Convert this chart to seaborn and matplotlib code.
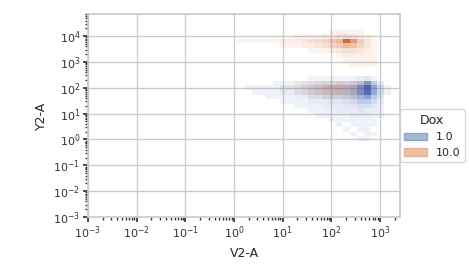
import numpy as np
import pandas as pd
import matplotlib
matplotlib.use("Agg")
import matplotlib.pyplot as plt
from matplotlib.colors import ListedColormap, to_rgb
import seaborn as sns

# log10 bin centres along V2-A
x_log = [0.16, 0.30, 0.45, 0.59, 0.73, 0.88, 1.02, 1.16, 1.30, 1.45, 1.59,
         1.73, 1.88, 2.02, 2.16, 2.30, 2.45, 2.59, 2.73, 2.88, 3.02, 3.16]

# Dox 1.0 : log10(Y2-A) row centre -> counts along x_log
dox1_rows_y = [2.37, 2.19, 2.01, 1.83, 1.65, 1.47, 1.29, 1.11, 0.93, 0.75, 0.57, 0.39, 0.21, 0.03]
dox1_counts = [
    [0, 0, 0, 0, 0, 0, 0, 0, 0, 0, 1, 1, 1, 1, 1, 1, 1, 2, 3, 1, 0, 0],
    [0, 0, 0, 0, 0, 1, 1, 1, 1, 2, 2, 3, 3, 3, 4, 4, 6, 10, 18, 8, 2, 0],
    [0, 1, 1, 1, 1, 1, 2, 2, 3, 4, 5, 6, 7, 8, 8, 9, 12, 20, 30, 15, 5, 1],
    [0, 0, 1, 1, 1, 1, 2, 2, 3, 4, 5, 6, 7, 7, 8, 9, 13, 20, 28, 15, 5, 1],
    [0, 0, 0, 0, 1, 1, 1, 1, 2, 2, 3, 3, 4, 5, 5, 6, 9, 12, 16, 9, 3, 0],
    [0, 0, 0, 0, 0, 0, 1, 1, 1, 1, 2, 2, 2, 3, 3, 4, 5, 8, 8, 5, 2, 0],
    [0, 0, 0, 0, 0, 0, 0, 0, 1, 1, 1, 1, 2, 2, 2, 3, 3, 4, 4, 3, 1, 0],
    [0, 0, 0, 0, 0, 0, 0, 0, 0, 0, 1, 1, 1, 1, 2, 2, 2, 3, 2, 2, 1, 0],
    [0, 0, 0, 0, 0, 0, 0, 0, 0, 0, 0, 1, 1, 1, 1, 1, 2, 2, 2, 1, 1, 0],
    [0, 0, 0, 0, 0, 0, 0, 0, 0, 0, 0, 0, 0, 1, 1, 1, 1, 1, 1, 1, 0, 0],
    [0, 0, 0, 0, 0, 0, 0, 0, 0, 0, 0, 0, 0, 0, 1, 0, 1, 1, 1, 1, 0, 0],
    [0, 0, 0, 0, 0, 0, 0, 0, 0, 0, 0, 0, 0, 0, 0, 1, 0, 1, 1, 0, 0, 0],
    [0, 0, 0, 0, 0, 0, 0, 0, 0, 0, 0, 0, 0, 0, 0, 0, 1, 0, 1, 1, 0, 0],
    [0, 0, 0, 0, 0, 0, 0, 0, 0, 0, 0, 0, 0, 0, 0, 0, 0, 1, 1, 0, 0, 0],
]

# Dox 10.0
dox10_rows_y = [4.17, 3.99, 3.81, 3.63, 3.45, 3.27, 3.09, 2.91, 2.19, 2.01, 1.83, 1.65]
dox10_counts = [
    [0, 0, 0, 0, 0, 0, 0, 0, 0, 0, 0, 0, 0, 1, 1, 1, 1, 1, 0, 0, 0, 0],
    [0, 0, 0, 0, 0, 0, 0, 0, 1, 1, 1, 1, 2, 2, 3, 4, 3, 2, 1, 0, 0, 0],
    [1, 1, 1, 1, 1, 1, 2, 2, 2, 3, 4, 5, 6, 9, 12, 30, 18, 8, 3, 1, 0, 0],
    [0, 0, 0, 0, 0, 0, 1, 1, 1, 2, 2, 3, 4, 6, 8, 12, 10, 6, 3, 1, 0, 0],
    [0, 0, 0, 0, 0, 0, 0, 0, 0, 0, 1, 1, 1, 2, 3, 4, 4, 3, 2, 1, 0, 0],
    [0, 0, 0, 0, 0, 0, 0, 0, 0, 0, 0, 0, 0, 0, 1, 2, 2, 2, 1, 1, 0, 0],
    [0, 0, 0, 0, 0, 0, 0, 0, 0, 0, 0, 0, 0, 0, 0, 1, 1, 1, 1, 1, 0, 0],
    [0, 0, 0, 0, 0, 0, 0, 0, 0, 0, 0, 0, 0, 0, 0, 0, 1, 1, 1, 1, 0, 0],
    [0, 0, 0, 0, 0, 0, 0, 0, 1, 1, 2, 2, 3, 3, 4, 3, 2, 1, 1, 0, 0, 0],
    [0, 0, 0, 0, 0, 0, 1, 1, 1, 2, 3, 4, 6, 7, 7, 6, 4, 2, 1, 1, 0, 0],
    [0, 0, 0, 0, 0, 0, 0, 0, 1, 1, 2, 3, 4, 5, 5, 4, 3, 2, 1, 0, 0, 0],
    [0, 0, 0, 0, 0, 0, 0, 0, 0, 0, 1, 1, 2, 2, 2, 2, 1, 1, 0, 0, 0, 0],
]

dox_levels = ["1.0", "10.0"]

records = []
for level, rows_y, counts in [(dox_levels[0], dox1_rows_y, dox1_counts),
                              (dox_levels[1], dox10_rows_y, dox10_counts)]:
    for yv, row in zip(rows_y, counts):
        for xv, c in zip(x_log, row):
            if c > 0:
                records.append({"V2-A": 10 ** xv, "Y2-A": 10 ** yv,
                                "w": c, "Dox": level})
df = pd.DataFrame(records)

sns.set_theme(style="whitegrid")
plt.rcParams.update({
    "xtick.bottom": True, "ytick.left": True,
    "xtick.major.size": 3.5, "ytick.major.size": 3.5,
    "xtick.minor.size": 2, "ytick.minor.size": 2,
    "xtick.color": "#333333", "ytick.color": "#333333",
})

deep = sns.color_palette("deep")
end_colors = ["#2a56b0", "#d2561e"]


def alpha_ramp(color):
    r, g, b = to_rgb(color)
    t = np.linspace(0, 1, 256)
    a = 0.025 + 0.895 * t ** 0.85
    return ListedColormap(np.column_stack([np.full(256, r), np.full(256, g),
                                           np.full(256, b), a]))


fig = plt.figure(figsize=(4.69, 2.70), dpi=100)
ax = fig.add_axes([88 / 469, 1 - 217 / 270, (400 - 88) / 469, (217 - 14) / 270])

sns.histplot(data=df, x="V2-A", y="Y2-A", hue="Dox", weights="w",
             hue_order=dox_levels, palette=[deep[0], deep[1]], log_scale=True,
             binwidth=(1 / 7, 0.18), binrange=((0.09, 3.233), (-0.24, 4.26)),
             ax=ax)

for mesh, endc in zip(ax.collections, end_colors):
    mesh.set_cmap(alpha_ramp(endc))

ax.set_xlim(1e-3, 2570)
ax.set_ylim(1e-3, 72000)
ax.tick_params(axis="both", which="both", labelsize=8, pad=2)
ax.set_xlabel("V2-A", fontsize=9)
ax.set_ylabel("Y2-A", fontsize=9)
for sp in ax.spines.values():
    sp.set_color("#cccccc")

sns.move_legend(ax, "center left", bbox_to_anchor=(0.982, 0.4),
                fontsize=8, title_fontsize=9, frameon=True)
for h in ax.get_legend().legend_handles:
    h.set_alpha(0.5)

fig.savefig("out.png", dpi=100)
